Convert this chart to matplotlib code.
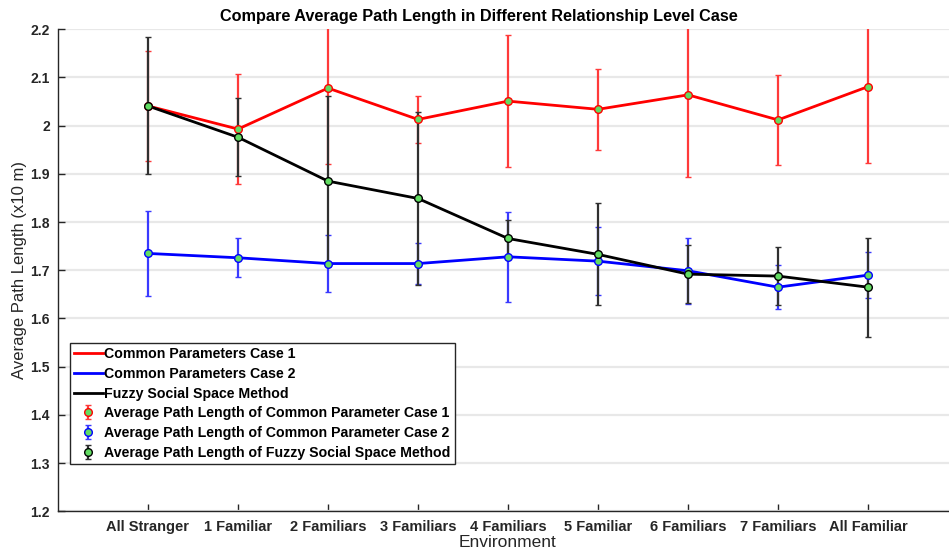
import matplotlib
matplotlib.use("Agg")
import matplotlib.pyplot as plt
from matplotlib import font_manager as fm
import numpy as np

categories = ['All Stranger', '1 Familiar', '2 Familiars', '3 Familiars', '4 Familiars',
              '5 Familiar', '6 Familiars', '7 Familiars', 'All Familiar']
case1 = [2.041, 1.993, 2.078, 2.013, 2.051, 2.034, 2.064, 2.012, 2.081]
case1_err = [0.114, 0.114, 0.157, 0.049, 0.137, 0.084, 0.171, 0.093, 0.159]
case2 = [1.735, 1.726, 1.714, 1.714, 1.728, 1.719, 1.699, 1.665, 1.690]
case2_err = [0.089, 0.040, 0.060, 0.042, 0.093, 0.070, 0.068, 0.045, 0.047]
fuzzy = [2.041, 1.976, 1.885, 1.849, 1.766, 1.733, 1.692, 1.688, 1.665]
fuzzy_err = [0.142, 0.081, 0.177, 0.180, 0.038, 0.106, 0.060, 0.060, 0.103]
yticks = [1.2, 1.3, 1.4, 1.5, 1.6, 1.7, 1.8, 1.9, 2.0, 2.1, 2.2]
ytick_labels = ['1.2', '1.3', '1.4', '1.5', '1.6', '1.7', '1.8', '1.9', '2', '2.1', '2.2']

names = {f.name for f in fm.fontManager.ttflist}
base = 'Liberation Sans' if 'Liberation Sans' in names else 'DejaVu Sans'
plt.rcParams['font.family'] = [base, 'DejaVu Sans']

fig = plt.figure(figsize=(9.49, 5.6), dpi=100)
ax = fig.add_axes([58 / 949, 48.7 / 560, 900 / 949, 482 / 560])

x = np.arange(1, len(categories) + 1)
green = '#62dc62'

l1, = ax.plot(x, case1, color='#ff0000', lw=2, zorder=3, label='Common Parameters Case 1')
l2, = ax.plot(x, case2, color='#0000ff', lw=2, zorder=3, label='Common Parameters Case 2')
l3, = ax.plot(x, fuzzy, color='black', lw=2, zorder=3, label='Fuzzy Social Space Method')

common = dict(fmt='o', elinewidth=1.6, capsize=2, capthick=1.6, markersize=5.5,
              markerfacecolor=green, markeredgewidth=1, zorder=4)
e1 = ax.errorbar(x, case1, yerr=case1_err, color='#ff3a3a', ecolor='#ff3a3a',
                 markeredgecolor='#ff0000',
                 label='Average Path Length of Common Parameter Case 1', **common)
e2 = ax.errorbar(x, case2, yerr=case2_err, color='#3a3aff', ecolor='#3a3aff',
                 markeredgecolor='#0000ff',
                 label='Average Path Length of Common Parameter Case 2', **common)
e3 = ax.errorbar(x, fuzzy, yerr=fuzzy_err, color='#303030', ecolor='#303030',
                 markeredgecolor='black',
                 label='Average Path Length of Fuzzy Social Space Method', **common)

ax.set_xlim(0, 10)
ax.set_ylim(1.2, 2.2)
ax.set_xticks(x)
ax.set_xticklabels(categories, fontsize=10.5, fontweight='bold', color='#262626')
ax.set_yticks(yticks)
ax.set_yticklabels(ytick_labels, fontsize=10, fontweight='bold', color='#262626')
ax.tick_params(direction='in', length=5, width=1, colors='#262626', pad=6)
ax.grid(axis='y', color='#e8e8e8', lw=1.6)
ax.set_axisbelow(True)
for s in ['top', 'right']:
    ax.spines[s].set_visible(False)
for s in ['left', 'bottom']:
    ax.spines[s].set_color('#262626')
    ax.spines[s].set_linewidth(1)

ax.set_xlabel('Environment', fontsize=12.5, color='#262626', labelpad=1)
ax.set_ylabel('Average Path Length (x10 m)', fontsize=12, color='#262626', labelpad=2)
fig.text(479 / 949, 1 - 16 / 560, 'Compare Average Path Length in Different Relationship Level Case',
         ha='center', va='center', fontsize=11.7, fontweight='bold', color='black')

leg = ax.legend(handles=[l1, l2, l3, e1, e2, e3], loc='upper left',
                bbox_to_anchor=(70 / 949, 1 - 343 / 560), bbox_transform=fig.transFigure,
                prop={'weight': 'bold', 'size': 10.2}, frameon=True, fancybox=False,
                edgecolor='#262626', framealpha=1, handlelength=2.0, handletextpad=0.1,
                labelspacing=0.4, borderpad=0.3, borderaxespad=0)
leg.get_frame().set_linewidth(1)

fig.savefig('out.png', dpi=100)
